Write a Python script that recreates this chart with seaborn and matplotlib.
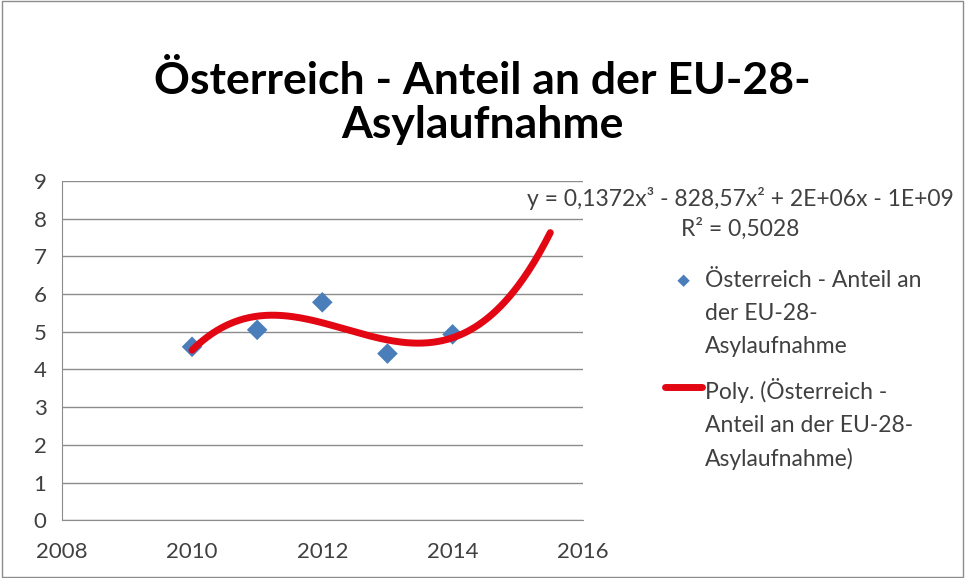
import numpy as np
import pandas as pd
import matplotlib.pyplot as plt
import seaborn as sns
from matplotlib.patches import Rectangle

# data
years = [2010, 2011, 2012, 2013, 2014]
anteil = [4.6, 5.05, 5.78, 4.42, 4.93]
trend_end = 2015.5
title = "Österreich - Anteil an der EU-28-\nAsylaufnahme"
series_label = "Österreich - Anteil an\nder EU-28-\nAsylaufnahme"
trend_label = "Poly. (Österreich -\nAnteil an der EU-28-\nAsylaufnahme)"
eq_text = "y = 0,1372x³ - 828,57x² + 2E+06x - 1E+09"
r2_text = "R² = 0,5028"

sns.set_style("white")
plt.rcParams['font.family'] = ['Lato', 'DejaVu Sans']

df = pd.DataFrame({'year': years, 'value': anteil})

# cubic trendline (like Excel's polynomial order 3, forecast forward)
xc = np.array(years, dtype=float) - 2010
coef = np.polyfit(xc, anteil, 3)
xs = np.linspace(2010, trend_end, 200)
trend = pd.DataFrame({'year': xs, 'value': np.polyval(coef, xs - 2010)})

fig = plt.figure(figsize=(9.65, 5.78), dpi=100)
ax = fig.add_axes([0.064, 0.100, 0.540, 0.587])

sns.lineplot(data=trend, x='year', y='value', ax=ax, color='#E30613', lw=5,
             solid_capstyle='round', label=trend_label, zorder=3)
sns.scatterplot(data=df, x='year', y='value', ax=ax, marker='D', s=110,
                color='#4A7EBB', edgecolor='none', label=series_label, zorder=2)

ax.set_xlim(2008, 2016)
ax.set_ylim(0, 9)
ax.set_xticks(range(2008, 2017, 2))
ax.set_yticks(range(0, 10))
ax.yaxis.grid(True, color='#8c8c8c', lw=1)
ax.set_xlabel('')
ax.set_ylabel('')
for s in ['top', 'right']:
    ax.spines[s].set_visible(False)
for s in ['left', 'bottom']:
    ax.spines[s].set_color('#8c8c8c')
ax.tick_params(axis='both', labelsize=16, colors='#8c8c8c', labelcolor='#404040',
               direction='out', length=6, width=1)
ax.tick_params(axis='x', pad=10)
ax.tick_params(axis='y', pad=5)

# legend: scatter first, then trendline
h, l = ax.get_legend_handles_labels()
leg = ax.legend([h[1], h[0]], [l[1], l[0]], loc='upper left', bbox_to_anchor=(0.668, 0.568),
                bbox_transform=fig.transFigure, frameon=False, fontsize=16.5,
                handlelength=1.6, handletextpad=0.15, labelspacing=0.9,
                handleheight=1.0, markerscale=0.6)
for t in leg.get_texts():
    t.set_color('#404040')
    t.set_linespacing(1.7)
# handles sit at the first line of each label, like Excel
for col in leg._legend_handle_box.get_children():
    for row in col.get_children():
        row.align = 'top'

fig.text(0.50, 0.822, title, ha='center', va='center', fontsize=32,
         fontweight='bold', color='black', linespacing=1.12)
fig.text(0.767, 0.657, eq_text, ha='center', va='center', fontsize=16.5, color='#404040')
fig.text(0.767, 0.605, r2_text, ha='center', va='center', fontsize=16.5, color='#404040')

fig.patches.append(Rectangle((0.002, 0.002), 0.996, 0.996, transform=fig.transFigure,
                             fill=False, edgecolor='#8c8c8c', lw=1))

fig.savefig('out.png', dpi=100)
